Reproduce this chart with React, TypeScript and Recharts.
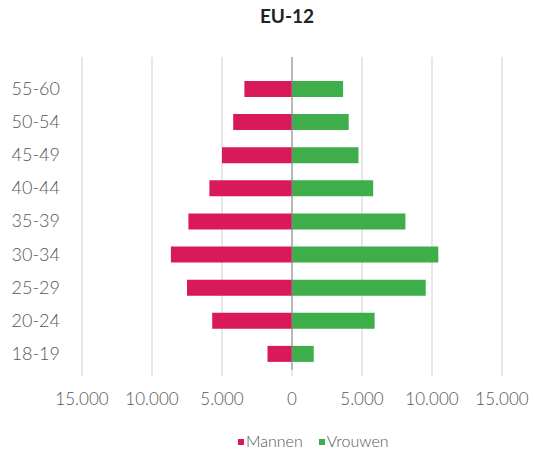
import React from "react";
import { BarChart, Bar, XAxis, YAxis, CartesianGrid, ReferenceLine, Legend } from "recharts";

const categories = ["55-60", "50-54", "45-49", "40-44", "35-39", "30-34", "25-29", "20-24", "18-19"];
const mannen = [3400, 4200, 5000, 5900, 7400, 8650, 7500, 5700, 1750];
const vrouwen = [3650, 4050, 4750, 5800, 8100, 10450, 9550, 5900, 1550];
const xTicks = [-15000, -10000, -5000, 0, 5000, 10000, 15000];

const MEN_COLOR = "#D91A5A";
const WOMEN_COLOR = "#3DAE49";
const FONT = "Lato, 'Open Sans', sans-serif";

const data = categories.map((c, i) => ({ age: c, Mannen: -mannen[i], Vrouwen: vrouwen[i] }));

const fmt = (v: number) => String(Math.abs(v)).replace(/\B(?=(\d{3})+(?!\d))/g, ".");

const LegendContent = () => (
  <div style={{ display: "flex", alignItems: "center", fontFamily: FONT, fontWeight: 300, fontSize: 16, color: "#555", whiteSpace: "nowrap" }}>
    <span style={{ display: "inline-block", width: 6, height: 6, background: MEN_COLOR, marginRight: 2, marginTop: 3 }} />
    <span style={{ marginRight: 16 }}>Mannen</span>
    <span style={{ display: "inline-block", width: 6, height: 6, background: WOMEN_COLOR, marginRight: 2, marginTop: 3 }} />
    <span>Vrouwen</span>
  </div>
);

export default function App() {
  return (
    <div style={{ position: "absolute", left: 0, top: 0, width: 534, height: 455, background: "#fff" }}>
      <div style={{ position: "absolute", left: 237, top: 4, width: 100, textAlign: "center", fontFamily: FONT, fontWeight: 700, fontSize: 19, color: "#222", lineHeight: "24px" }}>
        EU-12
      </div>
      <BarChart
        width={534}
        height={455}
        data={data}
        layout="vertical"
        stackOffset="sign"
        margin={{ top: 57, right: 32, bottom: 55, left: 0 }}
      >
        <CartesianGrid horizontal={false} vertical stroke="#cfcfcf" />
        <XAxis
          type="number"
          domain={[-15000, 15000]}
          ticks={xTicks}
          tickFormatter={fmt}
          axisLine={false}
          tickLine={{ stroke: "#cfcfcf" }}
          tickSize={6}
          tickMargin={17}
          height={30}
          interval={0}
          tick={{ fill: "#555", fontSize: 17, fontFamily: FONT, fontWeight: 300 }}
        />
        <YAxis
          type="category"
          dataKey="age"
          width={82}
          axisLine={false}
          tickLine={false}
          tickSize={0}
          tickMargin={22}
          padding={{ top: 15, bottom: 0 }}
          interval={0}
          tick={{ fill: "#555", fontSize: 18, fontFamily: FONT, fontWeight: 300 }}
        />
        <Bar dataKey="Mannen" stackId="a" fill={MEN_COLOR} barSize={16} isAnimationActive={false} />
        <Bar dataKey="Vrouwen" stackId="a" fill={WOMEN_COLOR} barSize={16} isAnimationActive={false} />
        <ReferenceLine x={0} stroke="#8a8a8a" strokeWidth={1} />
        <Legend
          layout="horizontal"
          verticalAlign="middle"
          align="center"
          content={LegendContent}
          wrapperStyle={{ top: 431, left: 238, width: "auto" }}
        />
      </BarChart>
    </div>
  );
}
